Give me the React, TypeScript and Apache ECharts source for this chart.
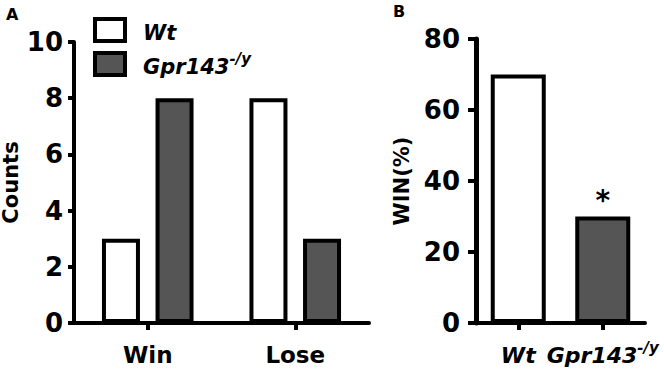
import React, { useEffect, useRef } from 'react';
import * as echarts from 'echarts';

// Panel A: encounter outcomes counted per genotype
const outcomes = ['Win', 'Lose'];
const wtCounts = [3, 8];
const koCounts = [8, 3];

// Panel B: percentage of wins per genotype
const genotypes = ['Wt', 'Gpr143-/y'];
const winPercent = [70, 30];
const significance = ['', '*'];

const FONT = '"DejaVu Sans", "Liberation Sans", Arial, sans-serif';
const GREY = '#555555';

const genotypeRich = (size: number) => ({
  i: { fontFamily: FONT, fontSize: size, fontWeight: 'bold', fontStyle: 'italic', color: '#000', lineHeight: 26, verticalAlign: 'bottom' },
  s: { fontFamily: FONT, fontSize: 15, fontWeight: 'bold', fontStyle: 'italic', color: '#000', lineHeight: 12, verticalAlign: 'top' },
});

function genotypeLabel(name: string): string {
  const m = name.match(/^(.*?)(-\/y)$/);
  return m ? `{i|${m[1]}}{s|${m[2]}}` : `{i|${name}}`;
}

const tickLabel = { fontFamily: FONT, fontSize: 26, fontWeight: 'bold' as const, color: '#000' };
const axisLine = { show: true, lineStyle: { color: '#000', width: 4 } };
const panelTitle = { fontFamily: FONT, fontSize: 16, fontWeight: 'bold' as const, color: '#000' };

export default function App() {
  const ref = useRef<HTMLDivElement>(null);

  useEffect(() => {
    if (!ref.current) return;
    const chart = echarts.init(ref.current, null, { renderer: 'svg' });
    chart.setOption({
      animation: false,
      backgroundColor: '#fff',
      title: [
        { text: 'A', left: 6, top: 6, padding: 0, textStyle: panelTitle },
        { text: 'B', left: 393, top: 3, padding: 0, textStyle: panelTitle },
      ],
      legend: {
        data: ['Wt', 'Gpr143-/y'],
        orient: 'vertical',
        left: 93,
        top: 17,
        padding: 0,
        itemWidth: 30,
        itemHeight: 22,
        itemGap: 8,
        icon: 'rect',
        itemStyle: { borderColor: '#000', borderWidth: 4 },
        formatter: (name: string) => genotypeLabel(name),
        textStyle: { padding: [0, 0, 0, 13], rich: genotypeRich(21) },
      },
      grid: [
        { left: 74, right: 295, top: 42, bottom: 46, outerBoundsMode: 'none', containLabel: false },
        { left: 476, right: 19, top: 39, bottom: 46, outerBoundsMode: 'none', containLabel: false },
      ],
      xAxis: [
        {
          gridIndex: 0,
          type: 'category',
          data: outcomes,
          axisLine,
          axisTick: { show: true, alignWithLabel: true, length: 7, lineStyle: { color: '#000', width: 4 } },
          axisLabel: { ...tickLabel, fontSize: 23, margin: 20 },
        },
        {
          gridIndex: 1,
          type: 'category',
          data: genotypes,
          axisLine,
          axisTick: { show: true, alignWithLabel: true, length: 7, lineStyle: { color: '#000', width: 4 } },
          axisLabel: { interval: 0, margin: 17, formatter: (v: string) => genotypeLabel(v), rich: genotypeRich(22) },
        },
      ],
      yAxis: [
        {
          gridIndex: 0,
          type: 'value',
          min: 0,
          max: 10,
          interval: 2,
          name: 'Counts',
          nameLocation: 'middle',
          nameGap: 53,
          nameTextStyle: { fontFamily: FONT, fontSize: 21, fontWeight: 'bold', color: '#000' },
          axisLine,
          axisTick: { show: true, length: 6, lineStyle: { color: '#000', width: 4 } },
          axisLabel: { ...tickLabel, margin: 11 },
          splitLine: { show: false },
        },
        {
          gridIndex: 1,
          type: 'value',
          min: 0,
          max: 80,
          interval: 20,
          name: 'WIN(%)',
          nameLocation: 'middle',
          nameGap: 64,
          nameTextStyle: { fontFamily: FONT, fontSize: 21, fontWeight: 'bold', color: '#000' },
          axisLine: { show: true, lineStyle: { color: '#000', width: 5 } },
          axisTick: { show: true, length: 8, lineStyle: { color: '#000', width: 4 } },
          axisLabel: { ...tickLabel, margin: 16 },
          splitLine: { show: false },
        },
      ],
      series: [
        {
          name: 'Wt',
          type: 'bar',
          xAxisIndex: 0,
          yAxisIndex: 0,
          data: wtCounts,
          barWidth: 38,
          barGap: '41%',
          itemStyle: { color: '#fff', borderColor: '#000', borderWidth: 4 },
        },
        {
          name: 'Gpr143-/y',
          type: 'bar',
          xAxisIndex: 0,
          yAxisIndex: 0,
          data: koCounts,
          barWidth: 38,
          barGap: '41%',
          itemStyle: { color: GREY, borderColor: '#000', borderWidth: 4 },
        },
        {
          name: 'WIN(%)',
          type: 'bar',
          xAxisIndex: 1,
          yAxisIndex: 1,
          barWidth: 55,
          data: winPercent.map((v, i) => ({
            value: v,
            itemStyle: { color: i === 0 ? '#fff' : GREY, borderColor: '#000', borderWidth: 4 },
            label: {
              show: significance[i] !== '',
              position: 'top',
              distance: 2,
              formatter: significance[i],
              fontFamily: FONT,
              fontSize: 28,
              fontWeight: 'bold',
              color: '#000',
            },
          })),
        },
      ],
    });
    return () => chart.dispose();
  }, []);

  return <div ref={ref} style={{ width: 664, height: 369, position: 'absolute', left: 0, top: 0 }} />;
}
